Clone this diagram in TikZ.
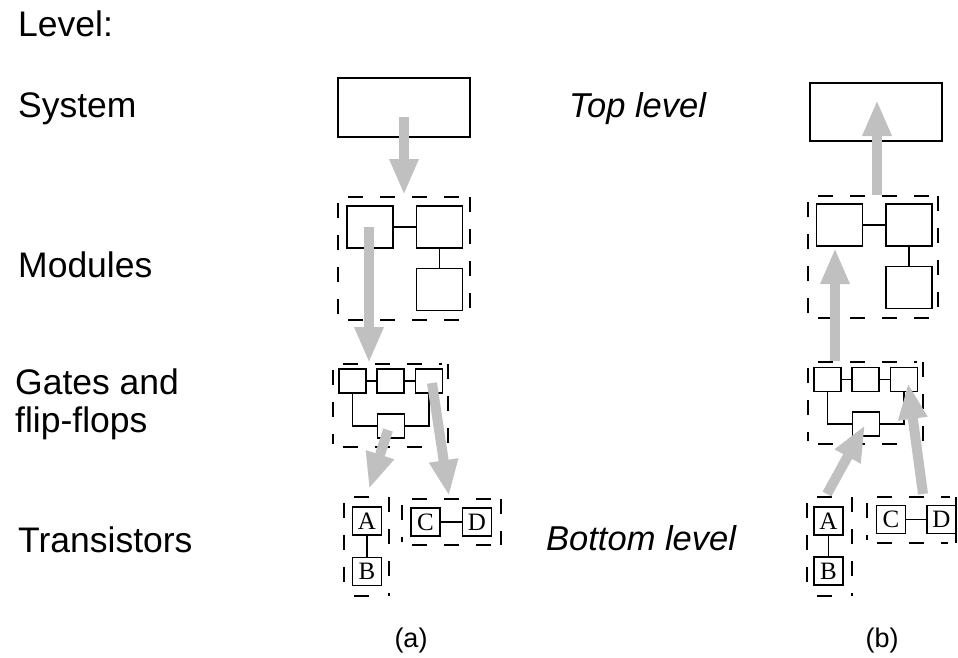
\documentclass[tikz,border=0pt]{standalone}
\usepackage{fontspec}
\setmainfont{Liberation Sans}
\newfontfamily\boxfont{Liberation Serif}
\usetikzlibrary{arrows.meta}
\definecolor{arrowgray}{RGB}{192,192,192}
\tikzset{
  blk/.style={draw, line width=1.6pt, inner sep=0pt, fill=white},
  sysbox/.style={blk, minimum width=132pt, minimum height=59pt},
  modbox/.style={blk, minimum width=46pt, minimum height=42pt},
  gatebox/.style={blk, minimum width=27pt, minimum height=24pt},
  trbox/.style={blk, minimum width=29pt, minimum height=28pt, font=\boxfont\fontsize{25}{25}\selectfont},
  wire/.style={line width=1.5pt},
  grp/.style={line width=1.7pt, dash pattern=on 15pt off 17pt},
  fat/.style={draw=arrowgray, line width=10pt, -{Triangle[width=27pt,length=36pt]}},
  lbl/.style={anchor=base west, inner sep=0pt, font=\fontsize{35.5}{40}\selectfont},
  ital/.style={lbl, font=\fontsize{34.5}{40}\selectfont\itshape},
  captxt/.style={anchor=base, inner sep=0pt, font=\fontsize{27}{30}\selectfont}
}
\newcommand\dgroup[4]{%
  \draw[grp] (#1+10,#2) -- (#3-6,#2);
  \draw[grp] (#1+10,#4) -- (#3-8,#4);
  \draw[grp] (#1,#2+6) -- (#1,#4-3);
  \draw[grp] (#3,#2) -- (#3,#4);
}
\begin{document}
\begin{tikzpicture}[x=1pt, y=-1pt]
\useasboundingbox (0,0) rectangle (958,657);

% labels
\node[lbl] (lLevel) at (18,36) {Level:};
\node[lbl] (lSys) at (18,117) {System};
\node[lbl] (lMod) at (18,277) {Modules};
\node[lbl] (lGates1) at (15,394) {Gates and};
\node[lbl] (lGates2) at (15,432) {flip-flops};
\node[lbl] (lTr) at (18,552) {Transistors};
\node[ital] (lTop) at (569,117) {Top level};
\node[ital] (lBot) at (546,550) {Bottom level};
\node[captxt] (capA) at (411,647) {(a)};
\node[captxt] (capB) at (882,647) {(b)};

% ===== column (a) =====
\dgroup{338}{197}{470}{320}
\dgroup{333}{364}{448}{447}
\dgroup{344}{497}{389}{596}
\dgroup{402}{499}{501}{545}

\node[sysbox] (sysA) at (404,107.5) {};
\node[modbox] (mA1) at (370,227) {};
\node[modbox] (mA2) at (439.5,227) {};
\node[modbox] (mA3) at (439.5,289.5) {};
\draw[wire] (mA1.east) -- (mA2.west);
\draw[wire] (mA2.south) -- (mA3.north);

\node[gatebox] (gA1) at (352.5,381) {};
\node[gatebox] (gA2) at (390.5,381) {};
\node[gatebox] (gA3) at (429,381) {};
\node[gatebox] (gA4) at (391,426) {};
\draw[wire] (gA1.east) -- (gA2.west);
\draw[wire] (gA2.east) -- (gA3.west);
\draw[wire] (gA1.south) |- (gA4.west);
\draw[wire] (gA3.south) |- (gA4.east);

\node[trbox] (tA) at (367,521) {A};
\node[trbox] (tB) at (367,571.5) {B};
\node[trbox] (tC) at (425.5,522) {C};
\node[trbox] (tD) at (477,522) {D};
\draw[wire] (tA.south) -- (tB.north);
\draw[wire] (tC.east) -- (tD.west);

% arrows (a)
\coordinate (a1s) at (404,117);
\coordinate (a1e) at (404,195);
\coordinate (a2s) at (369,227);
\coordinate (a2e) at (369,363);
\coordinate (a3s) at (388,430);
\coordinate (a3e) at (369,489);
\coordinate (a4s) at (432,383);
\coordinate (a4e) at (449,496);
\draw[fat] (a1s) -- (a1e);
\draw[fat] (a2s) -- (a2e);
\draw[fat] (a3s) -- (a3e);
\draw[fat] (a4s) -- (a4e);

% ===== column (b) =====
\dgroup{808}{196}{938}{318}
\dgroup{808}{362}{923}{444}
\dgroup{807}{497}{852}{596}
\dgroup{867}{497}{956}{543}

\node[sysbox, minimum height=58pt] (sysB) at (876,112) {};
\node[modbox] (mB1) at (839.5,225) {};
\node[modbox] (mB2) at (909,225) {};
\node[modbox] (mB3) at (909,287.5) {};
\draw[wire] (mB1.east) -- (mB2.west);
\draw[wire] (mB2.south) -- (mB3.north);

\node[gatebox] (gB1) at (827.5,379.5) {};
\node[gatebox] (gB2) at (865.5,379.5) {};
\node[gatebox] (gB3) at (904,379.5) {};
\node[gatebox] (gB4) at (866,424) {};
\draw[wire] (gB1.east) -- (gB2.west);
\draw[wire] (gB2.east) -- (gB3.west);
\draw[wire] (gB1.south) |- (gB4.west);
\draw[wire] (gB3.south) |- (gB4.east);

\node[trbox] (uA) at (828.5,521) {A};
\node[trbox] (uB) at (828.5,571) {B};
\node[trbox] (uC) at (891,519.5) {C};
\node[trbox] (uD) at (941.5,519.5) {D};
\draw[wire] (uA.south) -- (uB.north);
\draw[wire] (uC.east) -- (uD.west);

% arrows (b)
\coordinate (b1s) at (877,195);
\coordinate (b1e) at (877,100);
\coordinate (b2s) at (835,361);
\coordinate (b2e) at (835,248);
\coordinate (b3s) at (827,494);
\coordinate (b3e) at (865,425);
\coordinate (b4s) at (923,494);
\coordinate (b4e) at (908,383);
\draw[fat] (b1s) -- (b1e);
\draw[fat] (b2s) -- (b2e);
\draw[fat] (b3s) -- (b3e);
\draw[fat] (b4s) -- (b4e);
\end{tikzpicture}
\end{document}
